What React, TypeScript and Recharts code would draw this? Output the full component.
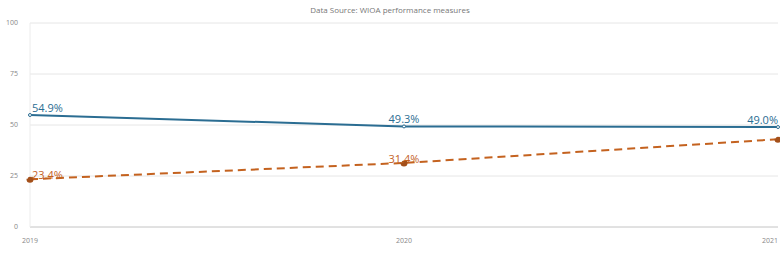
import { LineChart, Line, XAxis, YAxis, CartesianGrid, LabelList } from 'recharts';

const years = ['2019', '2020', '2021'];
const blueValues = [54.9, 49.3, 49.0];
const orangeValues = [23.4, 31.4, 43.0];
const yTicks = [0, 25, 50, 75, 100];

const data = years.map((year, i) => ({
  year,
  blue: blueValues[i],
  orange: orangeValues[i],
}));

const BLUE = '#2b6d92';
const ORANGE = '#c4621f';
const FONT = '"Open Sans", sans-serif';

const makeLabel = (color: string, skipLast: boolean, dy: number) => (props: any) => {
  const { x, y, value, index } = props;
  if (skipLast && index === years.length - 1) return null;
  const anchor = index === 0 ? 'start' : index === years.length - 1 ? 'end' : 'middle';
  const dx = index === 0 ? 2 : 0;
  return (
    <text
      x={x + dx}
      y={y + dy}
      textAnchor={anchor}
      fill={color}
      fontSize={11}
      fontFamily={FONT}
    >
      {`${value.toFixed(1)}%`}
    </text>
  );
};

const XTick = (props: any) => {
  const { x, y, payload, index } = props;
  const anchor = index === years.length - 1 ? 'end' : 'middle';
  return (
    <text x={x} y={y + 8} textAnchor={anchor} fill="#888" fontSize={7} fontFamily={FONT}>
      {payload.value}
    </text>
  );
};

export default function App() {
  return (
    <div style={{ position: 'absolute', left: 0, top: 0, width: 780, height: 260, background: '#fff' }}>
      <LineChart
        width={780}
        height={260}
        data={data}
        margin={{ top: 23, right: 2, left: 0, bottom: 0 }}
      >
        <text x={390} y={13} textAnchor="middle" fill="#777" fontSize={8} fontFamily={FONT}>
          Data Source: WIOA performance measures
        </text>
        <CartesianGrid vertical={false} stroke="#e6e6e6" />
        <XAxis
          dataKey="year"
          padding={{ left: 0, right: 0 }}
          height={33}
          axisLine={{ stroke: '#d0d0d0' }}
          tickLine={false}
          tick={<XTick />}
          interval={0}
        />
        <YAxis
          domain={[0, 100]}
          ticks={yTicks}
          width={30}
          axisLine={{ stroke: '#ececec' }}
          tickLine={false}
          tick={{ fontSize: 7, fill: '#888', fontFamily: FONT }}
          tickMargin={6}
        />
        <Line
          type="linear"
          dataKey="blue"
          stroke={BLUE}
          strokeWidth={2}
          dot={{ r: 1.5, fill: '#fff', stroke: BLUE, strokeWidth: 1 }}
          isAnimationActive={false}
        >
          <LabelList dataKey="blue" content={makeLabel(BLUE, false, -3)} />
        </Line>
        <Line
          type="linear"
          dataKey="orange"
          stroke={ORANGE}
          strokeWidth={2}
          strokeDasharray="8 5"
          dot={{ r: 2.5, fill: '#a4501a', stroke: '#a4501a' }}
          isAnimationActive={false}
        >
          <LabelList dataKey="orange" content={makeLabel(ORANGE, true, 0)} />
        </Line>
      </LineChart>
    </div>
  );
}
